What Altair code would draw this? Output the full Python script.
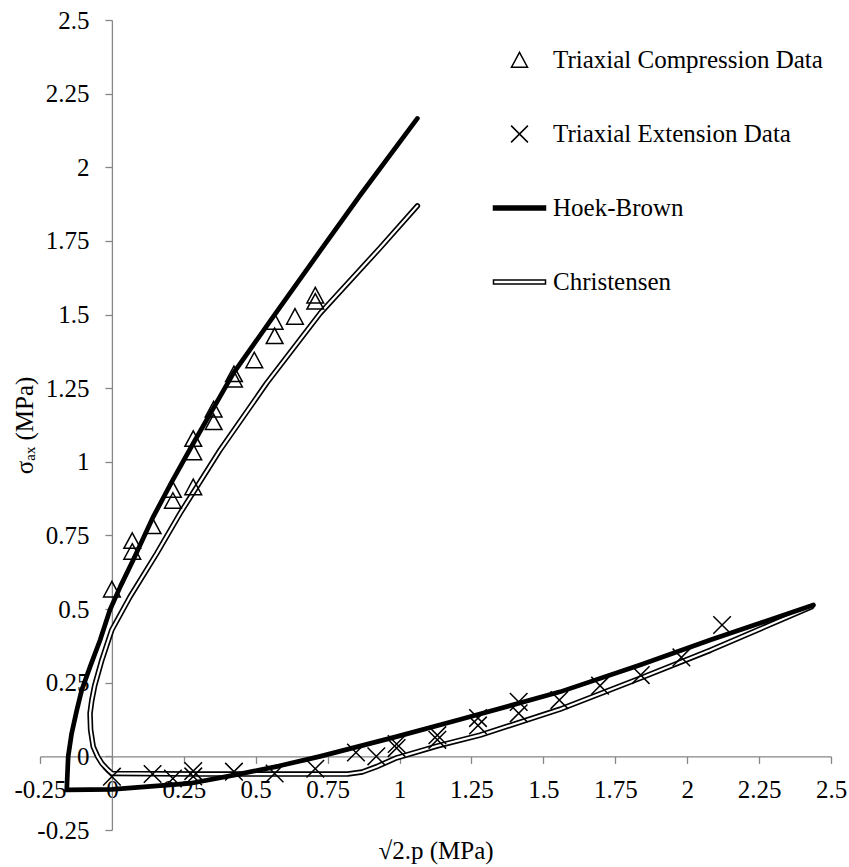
import altair as alt
import pandas as pd

# ---------------- data ----------------
COMP = "Triaxial Compression Data"
EXT = "Triaxial Extension Data"
HB = "Hoek-Brown"
CH = "Christensen"
series_names = [COMP, EXT, HB, CH]

comp_x = [0.0, 0.0707, 0.0707, 0.1414, 0.2121, 0.2121, 0.2828, 0.2828, 0.2828,
          0.3536, 0.3536, 0.4243, 0.4243, 0.4950, 0.5657, 0.5657, 0.6364, 0.7071, 0.7071]
comp_y = [0.567, 0.732, 0.695, 0.782, 0.868, 0.905, 0.914, 1.033, 1.078,
          1.135, 1.178, 1.280, 1.298, 1.345, 1.427, 1.476, 1.493, 1.544, 1.565]

ext_x = [0.0, 0.1414, 0.2121, 0.2828, 0.2828, 0.4243, 0.5657, 0.7071, 0.8485, 0.9192,
         0.9899, 0.9899, 1.1314, 1.1314, 1.2728, 1.2728, 1.4142, 1.4142, 1.5556,
         1.6971, 1.8385, 1.9799, 2.1213]
ext_y = [-0.069, -0.060, -0.075, -0.050, -0.068, -0.052, -0.058, -0.042, 0.013, 0.000,
         0.042, 0.028, 0.072, 0.056, 0.130, 0.105, 0.185, 0.146, 0.191,
         0.240, 0.276, 0.336, 0.446]

hb_x = [1.062, 0.863, 0.724, 0.561, 0.422, 0.283, 0.210, 0.144, 0.074, 0.030, -0.007,
        -0.041, -0.076, -0.105, -0.122, -0.140, -0.152, -0.157, 0.0, 0.270, 0.434,
        0.580, 0.724, 0.990, 1.210, 1.558, 1.836, 2.080, 2.439]
hb_y = [2.166, 1.905, 1.716, 1.493, 1.300, 1.063, 0.935, 0.814, 0.667, 0.578, 0.497,
        0.395, 0.304, 0.225, 0.157, 0.078, 0.000, -0.114, -0.112, -0.092, -0.062,
        -0.033, 0.000, 0.067, 0.125, 0.219, 0.310, 0.395, 0.514]

ch_x = [1.062, 0.932, 0.724, 0.538, 0.376, 0.237, 0.156, 0.063, 0.0, -0.035,
        -0.060, -0.070, -0.076, -0.074, -0.065, -0.050, -0.035, -0.015, 0.0, 0.300,
        0.600, 0.820, 0.870, 0.920, 0.990, 1.130, 1.280, 1.558, 1.836, 2.080, 2.433]
ch_y = [1.869, 1.726, 1.504, 1.267, 1.040, 0.825, 0.689, 0.542, 0.430, 0.327,
        0.240, 0.190, 0.146, 0.090, 0.033, 0.000, -0.024, -0.045, -0.058, -0.060,
        -0.060, -0.060, -0.053, -0.035, -0.005, 0.035, 0.072, 0.160, 0.265, 0.360, 0.508]

x_ticks = [-0.25, 0, 0.25, 0.5, 0.75, 1, 1.25, 1.5, 1.75, 2, 2.25, 2.5]
y_ticks = [-0.25, 0, 0.25, 0.5, 0.75, 1, 1.25, 1.5, 1.75, 2, 2.25, 2.5]

# ---------------- tables ----------------
pts = pd.DataFrame({
    "x": comp_x + ext_x,
    "y": comp_y + ext_y,
    "series": [COMP] * len(comp_x) + [EXT] * len(ext_x),
})
hb_df = pd.DataFrame({"x": hb_x, "y": hb_y, "i": list(range(len(hb_x)))})
ch_df = pd.DataFrame({"x": ch_x, "y": ch_y, "i": list(range(len(ch_x)))})

# ---------------- style ----------------
FONT = "Liberation Serif, Times New Roman, Times, serif"
FS = 25
GRAY = "#868686"

tri_path = "M0,-0.95L1,0.9L-1,0.9Z"
x_path = "M-1.05,-1.05L1.05,1.05M-1.05,1.05L1.05,-1.05"
bar_path = "M-3.25,-0.25L3.25,-0.25L3.25,0.25L-3.25,0.25Z"

xs = alt.Scale(domain=[-0.25, 2.5], nice=False, zero=False)
ys = alt.Scale(domain=[-0.25, 2.5], nice=False, zero=False)

x_axis = alt.Axis(
    values=x_ticks, grid=False, offset=-73.6,
    domainColor=GRAY, tickColor=GRAY, tickSize=7, domainWidth=1.3, tickWidth=1.3,
    labelExpr="'' + datum.value", labelFont=FONT, labelFontSize=FS, labelColor="black",
    labelPadding=14, labelFlush=False, labelOverlap=False, labelBound=False,
    title="√2.p (MPa)", titleFont=FONT, titleFontSize=FS, titleFontWeight="normal",
    titleColor="black", titleY=101.6, titleBaseline="alphabetic",
)
y_axis = alt.Axis(
    values=y_ticks, grid=False, offset=-71.9,
    domainColor=GRAY, tickColor=GRAY, tickSize=7, domainWidth=1.3, tickWidth=1.3,
    labelExpr="'' + datum.value", labelFont=FONT, labelFontSize=FS, labelColor="black",
    labelPadding=16, labelFlush=False, labelOverlap=False, labelBound=False,
    title="σₐₓ (MPa)", titleFont=FONT, titleFontSize=FS, titleFontWeight="normal",
    titleColor="black", titleX=-79, titleBaseline="alphabetic",
)

legend = alt.Legend(
    orient="none", legendX=467, legendY=27.5, title=None, padding=0,
    labelFont=FONT, labelFontSize=FS, labelColor="black", labelLimit=2000,
    symbolSize=256, symbolStrokeWidth=1.5, symbolStrokeColor="black",
    labelOffset=21, rowPadding=48,
)

ch_black = alt.Chart(ch_df).mark_line(
    color="black", strokeWidth=5.5, strokeCap="round", strokeJoin="round"
).encode(
    x=alt.X("x:Q", scale=xs, axis=x_axis),
    y=alt.Y("y:Q", scale=ys, axis=y_axis),
    order="i:Q",
)
ch_white = alt.Chart(ch_df).mark_line(
    color="white", strokeWidth=2.2, strokeCap="round", strokeJoin="round"
).encode(x=alt.X("x:Q", scale=xs), y=alt.Y("y:Q", scale=ys), order="i:Q")

hb_line = alt.Chart(hb_df).mark_line(
    color="black", strokeWidth=4.7, strokeCap="round", strokeJoin="round"
).encode(x=alt.X("x:Q", scale=xs), y=alt.Y("y:Q", scale=ys), order="i:Q")

points = alt.Chart(pts).mark_point(size=280, strokeWidth=1.5, opacity=1).encode(
    x=alt.X("x:Q", scale=xs),
    y=alt.Y("y:Q", scale=ys),
    shape=alt.Shape("series:N", scale=alt.Scale(domain=series_names,
                    range=[tri_path, x_path, bar_path, bar_path]), legend=legend),
    fill=alt.Fill("series:N", scale=alt.Scale(domain=series_names,
                  range=["transparent", "transparent", "black", "white"]), legend=legend),
    stroke=alt.Stroke("series:N", scale=alt.Scale(domain=series_names,
                      range=["black", "black", "black", "black"]), legend=legend),
)

chart = alt.layer(ch_black, ch_white, hb_line, points).properties(
    width=791, height=810,
    autosize=alt.AutoSizeParams(type="none"),
    padding={"left": 40, "top": 20, "right": 18, "bottom": 37},
    background="white",
).configure_view(stroke=None)

chart.save("out.html", embed_options={"renderer": "svg", "actions": False})
